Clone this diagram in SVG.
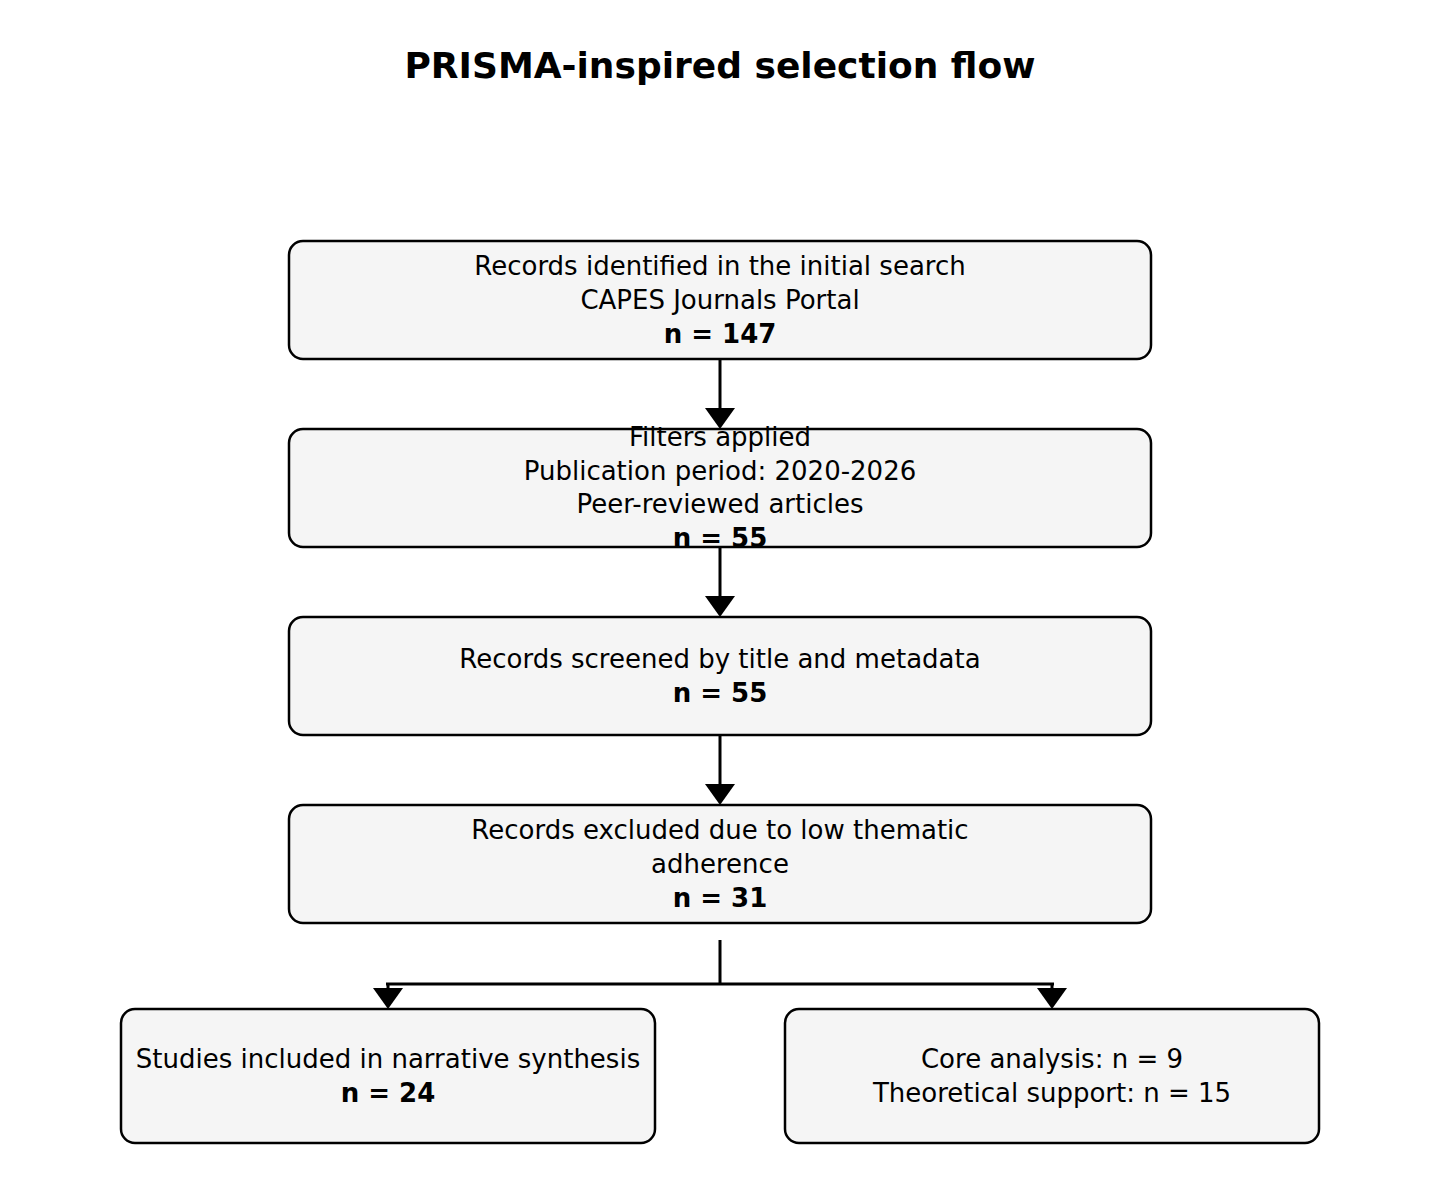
<svg xmlns="http://www.w3.org/2000/svg" width="1440" height="1200" viewBox="0 0 1440 1200">
<style>
.b{fill:#f5f5f5;stroke:#000;stroke-width:2.5}
text{font-family:"DejaVu Sans",sans-serif;font-size:26px;text-anchor:middle;fill:#000}
.n{font-weight:bold}
.c{stroke:#000;stroke-width:3;fill:none}
</style>
<defs><marker id="a" markerWidth="10" markerHeight="7" refX="10" refY="3.5" orient="auto" markerUnits="userSpaceOnUse" viewBox="0 0 10 7"><path d="M0,0L10,3.5L0,7z"/></marker></defs>
<rect width="1440" height="1200" fill="#fff"/>
<text x="720" y="78" class="n" style="font-size:36px">PRISMA-inspired selection flow</text>
<g id="connectors">
<line class="c" x1="720" y1="359" x2="720" y2="410"/><path d="M705,408L735,408L720,429z"/>
<line class="c" x1="720" y1="547" x2="720" y2="598"/><path d="M705,596L735,596L720,617z"/>
<line class="c" x1="720" y1="735" x2="720" y2="786"/><path d="M705,784L735,784L720,805z"/>
<path class="c" d="M720,940V984M386,984H1054M388,984V992M1052,984V992"/>
<path d="M373,988L403,988L388,1009z"/><path d="M1037,988L1067,988L1052,1009z"/>
</g>
<g id="n1"><rect class="b" x="289" y="241" width="862" height="118" rx="14"/>
<text x="720" y="275">Records identified in the initial search</text><text x="720" y="309">CAPES Journals Portal</text><text x="720" y="343" class="n">n = 147</text></g>
<g id="n2"><rect class="b" x="289" y="429" width="862" height="118" rx="14"/>
<text x="720" y="446">Filters applied</text><text x="720" y="480">Publication period: 2020-2026</text><text x="720" y="513">Peer-reviewed articles</text><text x="720" y="547" class="n">n = 55</text></g>
<g id="n3"><rect class="b" x="289" y="617" width="862" height="118" rx="14"/>
<text x="720" y="668">Records screened by title and metadata</text><text x="720" y="702" class="n">n = 55</text></g>
<g id="n4"><rect class="b" x="289" y="805" width="862" height="118" rx="14"/>
<text x="720" y="839">Records excluded due to low thematic</text><text x="720" y="873">adherence</text><text x="720" y="907" class="n">n = 31</text></g>
<g id="n5"><rect class="b" x="121" y="1009" width="534" height="134" rx="14"/>
<text x="388" y="1068">Studies included in narrative synthesis</text><text x="388" y="1102" class="n">n = 24</text></g>
<g id="n6"><rect class="b" x="785" y="1009" width="534" height="134" rx="14"/>
<text x="1052" y="1068">Core analysis: n = 9</text><text x="1052" y="1102">Theoretical support: n = 15</text></g>
</svg>
